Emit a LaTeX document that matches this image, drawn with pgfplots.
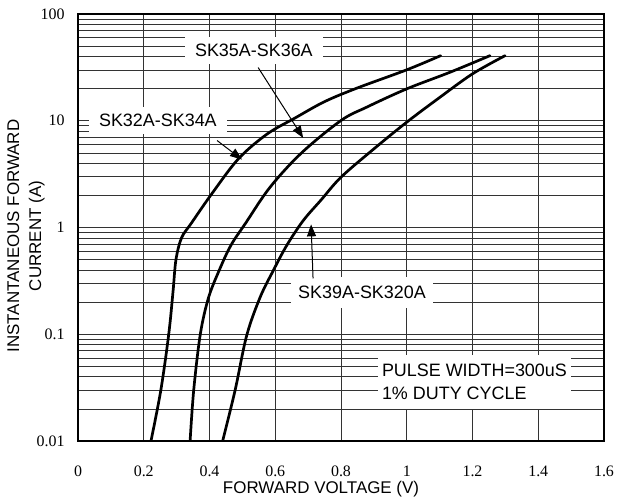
\documentclass[border=0pt]{standalone}
\usepackage{pgfplots}
\pgfplotsset{compat=1.18}
\usepackage{fontspec}
\setmainfont{Liberation Serif}
\newfontfamily\arial{Liberation Sans}
\usetikzlibrary{arrows.meta,calc}
\begin{document}
\begin{tikzpicture}
\begin{axis}[
  scale only axis, width=526bp, height=427bp,
  xmin=0, xmax=1.6, ymin=0.01, ymax=100, ymode=log,
  xtick={0,0.2,0.4,0.6,0.8,1,1.2,1.4,1.6},
  xticklabels={0,0.2,0.4,0.6,0.8,1,1.2,1.4,1.6},
  ytick={0.01,0.1,1,10,100},
  yticklabels={0.01,0.1,1,10,100},
  minor ytick={0.02,0.03,0.04,0.05,0.06,0.07,0.08,0.09,0.2,0.3,0.4,0.5,0.6,0.7,0.8,0.9,2,3,4,5,6,7,8,9,20,30,40,50,60,70,80,90},
  tick label style={font=\fontsize{16}{16}\selectfont},
  xticklabel style={yshift=-21bp},
  yticklabel style={xshift=-10bp},
  xmajorgrids=true, ymajorgrids=true, yminorgrids=true,
  major grid style={black!80, line width=0.7bp},
  minor grid style={black!80, line width=0.6bp},
  major tick length=0pt, minor tick length=0pt,
  axis line style={line width=1.3bp, black},
  xlabel={FORWARD VOLTAGE (V)},
  xlabel style={font=\arial\fontsize{17}{17}\selectfont, at={(axis description cs:0.462,0)}, anchor=center, yshift=-48bp},
  ylabel={INSTANTANEOUS FORWARD\\CURRENT (A)},
  ylabel style={font=\arial\fontsize{17}{22}\selectfont, align=center, at={(axis description cs:-0.0989,0.48)}, anchor=center},
  curve/.style={black, line width=2.7bp, smooth, tension=0.55, no marks, line cap=round},
]
\coordinate (bl) at (rel axis cs:0,0);
\coordinate (tr) at (rel axis cs:1,1);
% SK32A-SK34A
\addplot[curve] coordinates {(0.222,0.01) (0.252,0.03) (0.276,0.1) (0.289,0.25) (0.298,0.5) (0.315,0.8) (0.345,1.1) (0.407,2.07) (0.488,4.4) (0.575,7.5) (0.66,10.6) (0.75,15.1) (0.85,20.3) (1.0,30) (1.103,40.7)};
% SK35A-SK36A
\addplot[curve] coordinates {(0.341,0.01) (0.352,0.03) (0.372,0.1) (0.397,0.22) (0.43,0.4) (0.465,0.68) (0.51,1.1) (0.584,2.38) (0.68,5.0) (0.8,10.05) (0.878,13.4) (1.0,19.9) (1.132,28.5) (1.253,40.7)};
% SK39A-SK320A
\addplot[curve] coordinates {(0.440,0.01) (0.478,0.03) (0.513,0.097) (0.554,0.222) (0.594,0.395) (0.635,0.68) (0.685,1.16) (0.74,1.82) (0.8,2.96) (0.9,5.45) (1.0,9.7) (1.101,16.6) (1.2,27.5) (1.299,40.7)};
\begin{scope}[every node/.style={fill=white, inner xsep=10bp, inner ysep=7bp, font=\arial\fontsize{18}{23}\selectfont}]
\node at (axis cs:0.535,45.4) {SK35A-SK36A};
\node at (axis cs:0.243,10) {SK32A-SK34A};
\node[inner xsep=7bp, inner ysep=9bp] at (axis cs:0.864,0.246) {SK39A-SK320A};
\node[anchor=west, align=left, inner xsep=4bp, inner ysep=9bp] at (axis cs:0.912,0.0357) {PULSE WIDTH=300uS\\1\% DUTY CYCLE};
\end{scope}
\draw[line width=1bp, -{Triangle[length=12bp,width=9bp]}] (axis cs:0.548,31.5) -- (axis cs:0.685,6.9);
\draw[line width=1bp, -{Triangle[length=12bp,width=9bp]}] (axis cs:0.423,6.53) -- (axis cs:0.499,4.33);
\draw[line width=1bp, -{Triangle[length=12bp,width=9bp]}] (axis cs:0.715,0.333) -- (axis cs:0.709,1.07);
\end{axis}
\pgfresetboundingbox
\path[use as bounding box] ($(bl)+(-78bp,-61bp)$) rectangle ($(tr)+(15bp,14bp)$);
\end{tikzpicture}
\end{document}
